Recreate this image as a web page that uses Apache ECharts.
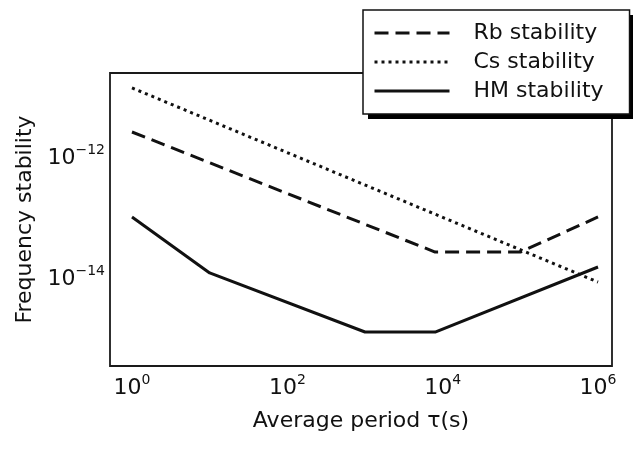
<!DOCTYPE html>
<html><head><meta charset="utf-8">
<script src="https://cdn.jsdelivr.net/npm/echarts@6/dist/echarts.min.js"></script>
<style>html,body{margin:0;padding:0;background:#fff}#c{width:636px;height:450px}</style>
</head><body><div id="c"></div>
<script>
const seriesNames = ['Rb stability', 'Cs stability', 'HM stability'];
const rbX = [1, 8000, 1e5, 1e6];
const rbY = [2.69e-12, 2.79e-14, 2.79e-14, 1.06e-13];
const csX = [1, 1e6];
const csY = [1.44e-11, 8.9e-15];
const hmX = [1, 10, 1000, 8000, 1e6];
const hmY = [1.06e-13, 1.26e-14, 1.33e-15, 1.33e-15, 1.58e-14];
const xTickExponents = [0, 2, 4, 6];
const yTickExponents = [-14, -12];
const xTitle = 'Average period \u03c4(s)';
const yTitle = 'Frequency stability';

const FONT = 'DejaVu Sans';
const INK = '#111';
const pairs = (xs, ys) => xs.map((x, i) => [x, ys[i]]);
const rich = {
  b: {fontFamily: FONT, fontSize: 22, lineHeight: 30, color: INK},
  s: {fontFamily: FONT, fontSize: 14, verticalAlign: 'top', color: INK}
};
function fmt(allowed) {
  return function (v) {
    const l = Math.log10(v);
    const e = Math.round(l);
    if (Math.abs(l - e) > 1e-6 || allowed.indexOf(e) < 0) return '';
    const es = e < 0 ? '\u2212' + (-e) : '' + e;
    return '{b|10}{s|' + es + '}';
  };
}
const chart = echarts.init(document.getElementById('c'), null, {renderer: 'canvas'});
const lineBase = {type: 'line', symbol: 'none', showSymbol: false, animation: false, silent: true, emphasis: {disabled: true}};
chart.setOption({
  backgroundColor: '#fff',
  animation: false,
  grid: {left: 110, top: 73, right: 24, bottom: 84, show: true, borderColor: '#1a1a1a', borderWidth: 1.8, backgroundColor: 'transparent'},
  graphic: [{
    type: 'rect', left: 368, top: 15, z: 0, silent: true,
    shape: {width: 265, height: 104},
    style: {fill: '#000'}
  }],
  legend: {
    orient: 'vertical', left: 363, top: 10, z: 10,
    itemWidth: 75, itemHeight: 14, itemGap: 7,
    padding: [12, 26, 12, 10],
    backgroundColor: '#fff', borderColor: INK, borderWidth: 1.5,
    itemStyle: {opacity: 0},
    lineStyle: {width: 3, inactiveWidth: 3},
    textStyle: {fontFamily: FONT, fontSize: 22, color: INK, padding: [0, 0, 0, 19]},
    data: seriesNames, selectedMode: false
  },
  xAxis: {
    type: 'log', logBase: 10, min: 0.521, max: 1.514e6,
    axisLine: {show: false}, axisTick: {show: false}, splitLine: {show: false},
    axisLabel: {margin: 7, formatter: fmt(xTickExponents), rich: rich},
    name: xTitle, nameLocation: 'middle', nameGap: 44,
    nameTextStyle: {fontFamily: FONT, fontSize: 22, color: INK}
  },
  yAxis: {
    type: 'log', logBase: 10, min: 3.65e-16, max: 2.54e-11,
    axisLine: {show: false}, axisTick: {show: false}, splitLine: {show: false},
    axisLabel: {margin: 5, formatter: fmt(yTickExponents), rich: rich},
    name: yTitle, nameLocation: 'middle', nameGap: 72,
    nameTextStyle: {fontFamily: FONT, fontSize: 22, color: INK}
  },
  series: [
    Object.assign({}, lineBase, {name: seriesNames[0], data: pairs(rbX, rbY),
      lineStyle: {color: INK, width: 3, type: [14, 7], cap: 'butt'}, itemStyle: {color: INK}}),
    Object.assign({}, lineBase, {name: seriesNames[1], data: pairs(csX, csY),
      lineStyle: {color: INK, width: 3, type: [3, 4], cap: 'butt'}, itemStyle: {color: INK}}),
    Object.assign({}, lineBase, {name: seriesNames[2], data: pairs(hmX, hmY),
      lineStyle: {color: INK, width: 3, type: 'solid'}, itemStyle: {color: INK}})
  ]
});
</script></body></html>
